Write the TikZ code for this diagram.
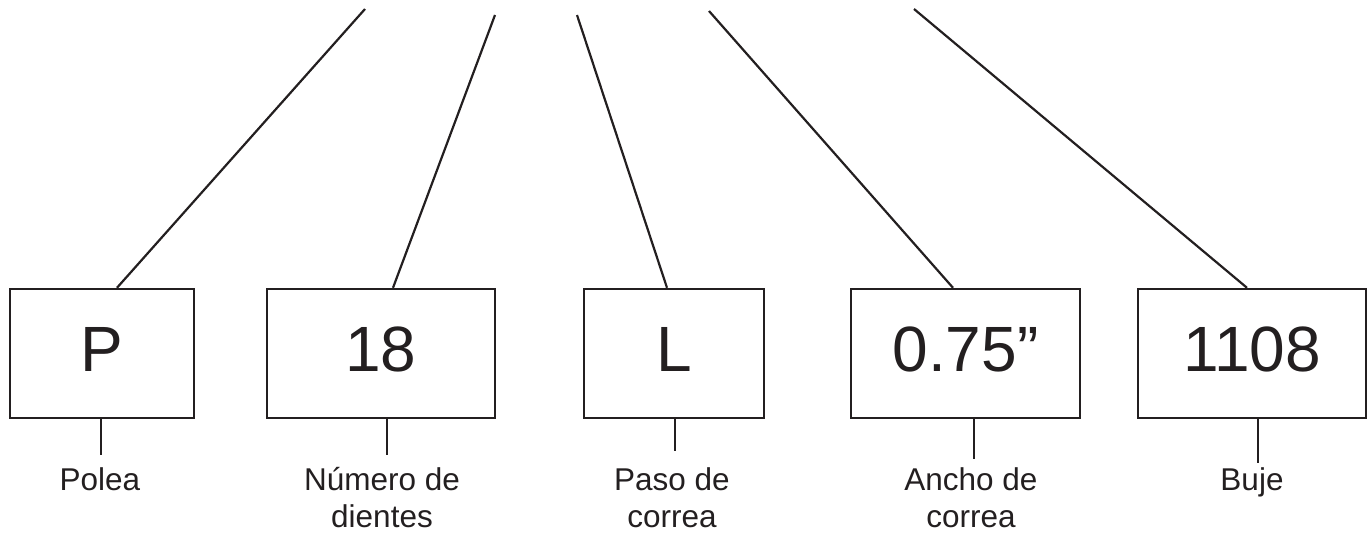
\documentclass[tikz,border=0pt]{standalone}
\usepackage{fontspec}
\setmainfont{Liberation Sans}
\definecolor{ink}{RGB}{35,31,32}
\begin{document}
\begin{tikzpicture}[x=1pt,y=-1pt,
  codebox/.style={draw=ink, text=ink, line width=2.4pt, minimum height=129pt, inner sep=0pt,
    font=\fontsize{64}{64}\selectfont, text height=46pt, text depth=11pt},
  lead/.style={draw=ink, line width=2.2pt},
  lbl/.style={text=ink, font=\fontsize{31.5}{37}\selectfont, align=center, anchor=base, inner sep=0pt}]
\useasboundingbox (0,0) rectangle (1369,533);
% boxes
\node[codebox, minimum width=184pt] (p) at (102,353.5) {P};
\node[codebox, minimum width=228pt] (n) at (381,353.5) {18};
\node[codebox, minimum width=180pt] (l) at (674,353.5) {L};
\node[codebox, minimum width=229pt] (w) at (965.5,353.5) {0.75”};
\node[codebox, minimum width=228pt] (b) at (1252,353.5) {1108};
% top ends of leader lines
\coordinate (t1) at (365,9);
\coordinate (t2) at (495,15);
\coordinate (t3) at (577,15);
\coordinate (t4) at (709,11);
\coordinate (t5) at (914,9);
\coordinate (h1) at (117,289);
\coordinate (h2) at (393,289);
\coordinate (h3) at (667,289);
\coordinate (h4) at (953,289);
\coordinate (h5) at (1247,289);
\draw[lead] (t1) -- (h1 |- p.north);
\draw[lead] (t2) -- (h2 |- n.north);
\draw[lead] (t3) -- (h3 |- l.north);
\draw[lead] (t4) -- (h4 |- w.north);
\draw[lead] (t5) -- (h5 |- b.north);
% labels (base anchor = baseline of the last line)
\node[lbl] (lp) at (100,490) {Polea};
\node[lbl] (ln) at (382,527) {Número de\\dientes};
\node[lbl] (ll) at (672,527) {Paso de\\correa};
\node[lbl] (lw) at (971,527) {Ancho de\\correa};
\node[lbl] (lb) at (1252,490) {Buje};
% ticks
\coordinate (k1) at (101,455);
\coordinate (k2) at (387,455);
\coordinate (k3) at (675,451);
\coordinate (k4) at (974,459);
\coordinate (k5) at (1258,463);
\draw[lead] (k1 |- p.south) -- (k1);
\draw[lead] (k2 |- n.south) -- (k2);
\draw[lead] (k3 |- l.south) -- (k3);
\draw[lead] (k4 |- w.south) -- (k4);
\draw[lead] (k5 |- b.south) -- (k5);
\end{tikzpicture}
\end{document}
